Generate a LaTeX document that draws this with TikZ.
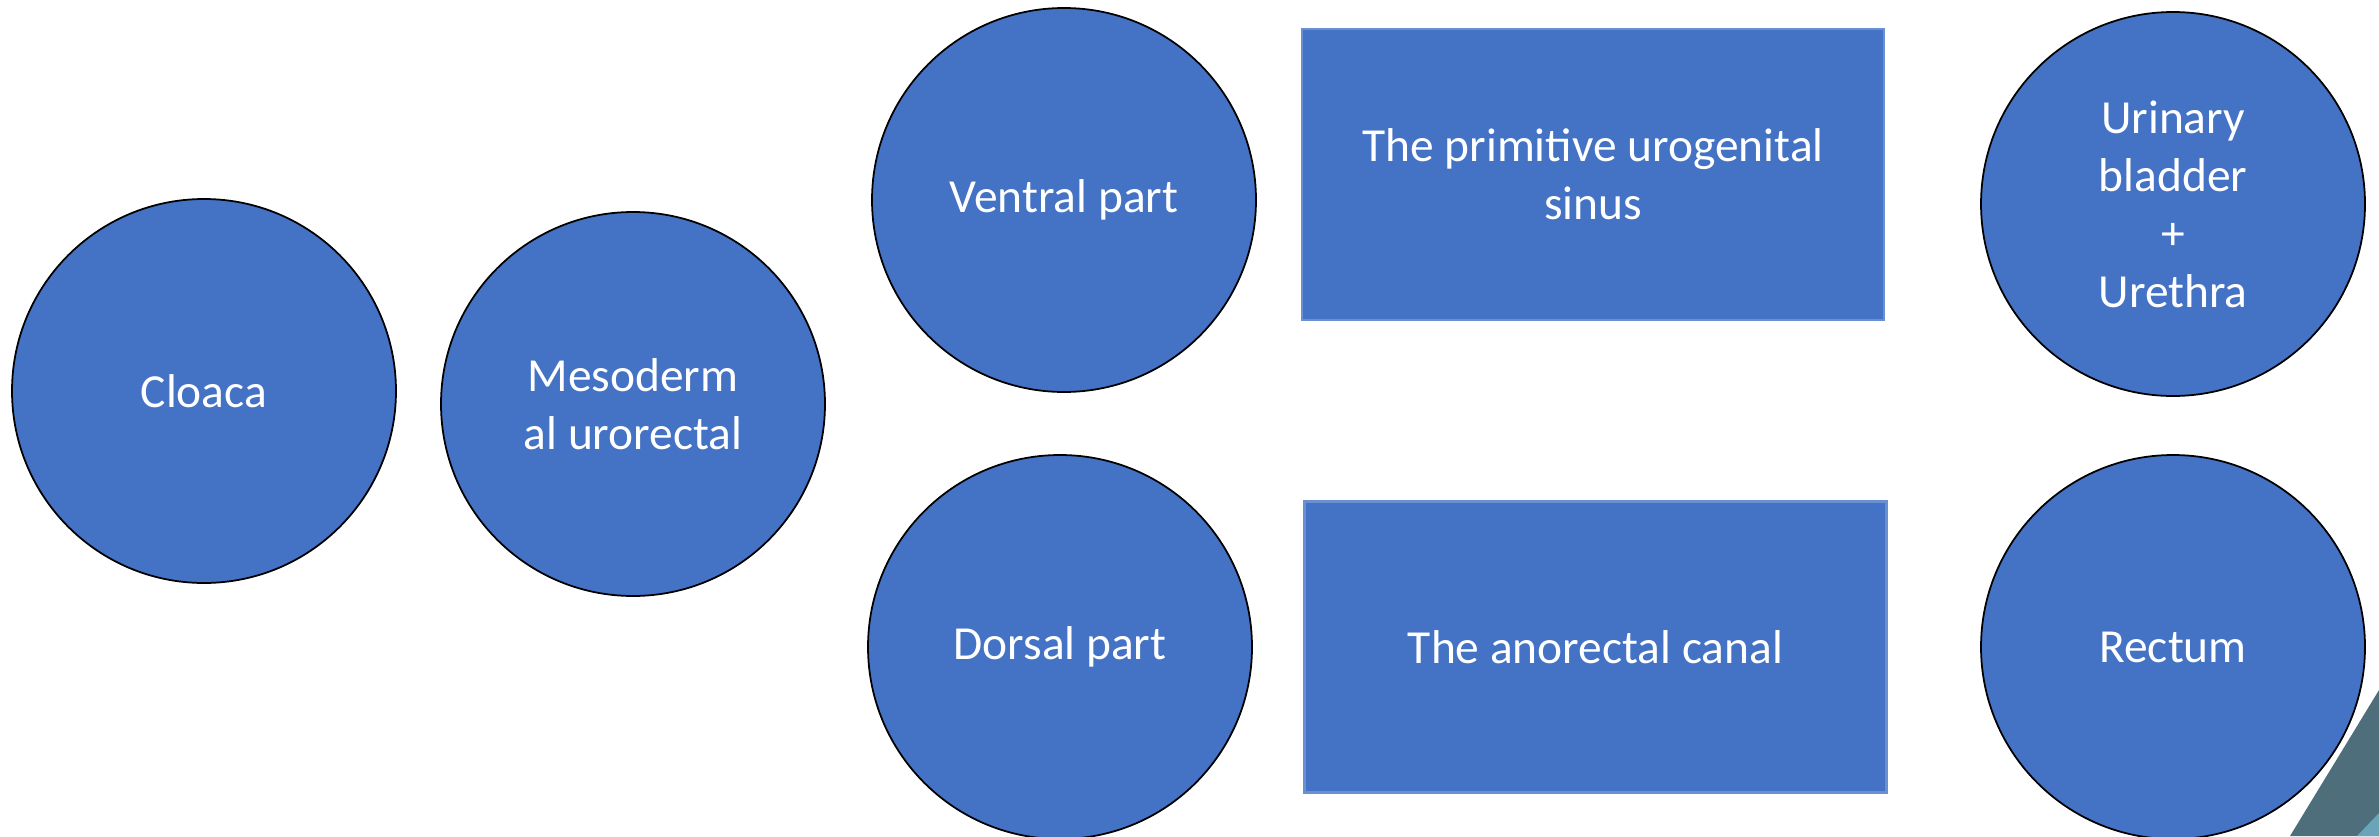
\documentclass[tikz,border=0pt]{standalone}
\usepackage{fontspec}
\setmainfont{Carlito}
\usepackage{xcolor}
\usepackage{tikz}
\definecolor{Blob}{HTML}{4472C4}
\definecolor{Edge}{HTML}{6A8FD2}
\definecolor{Slate}{HTML}{4E6E7C}
\definecolor{Teal}{HTML}{6BA3B8}

\begin{document}
\begin{tikzpicture}[x=1cm,y=1cm,
    blob/.style={circle,fill=Blob,draw=black,line width=0.5pt,minimum size=3.84cm,
      inner sep=0pt,text=white,align=center,font=\fontsize{13.5}{16.5}\selectfont},
    slab/.style={rectangle,fill=Blob,draw=Edge,line width=0.6pt,minimum width=5.82cm,
      minimum height=2.91cm,inner sep=0pt,text=white,align=center,
      font=\fontsize{13.5}{16.5}\selectfont}]
  \useasboundingbox (0,0) rectangle (23.79,8.36);
  % corner decoration
  \fill[Slate] (23.79,1.46) -- (22.90,0) -- (23.79,0) -- cycle;
  \fill[Teal] (23.79,0.23) -- (23.57,0) -- (23.79,0) -- cycle;
  % circles
  \foreach \name/\x/\y/\txt in {
    cloaca/2.04/4.45/{Cloaca},
    meso/6.33/4.32/{Mesoderm\\al urorectal},
    ventral/10.64/6.36/{Ventral part},
    dorsal/10.60/1.89/{Dorsal part},
    bladder/21.73/6.32/{Urinary\\bladder\\+\\Urethra},
    rectum/21.73/1.89/{Rectum}} {
    \node[blob] (\name) at (\x,\y) {\txt};
  }
  % boxes
  \node[slab] (sinus) at (15.93,6.615) {The primitive urogenital\\sinus};
  \node[slab] (canal) at (15.955,1.89) {The anorectal canal};
\end{tikzpicture}
\end{document}
